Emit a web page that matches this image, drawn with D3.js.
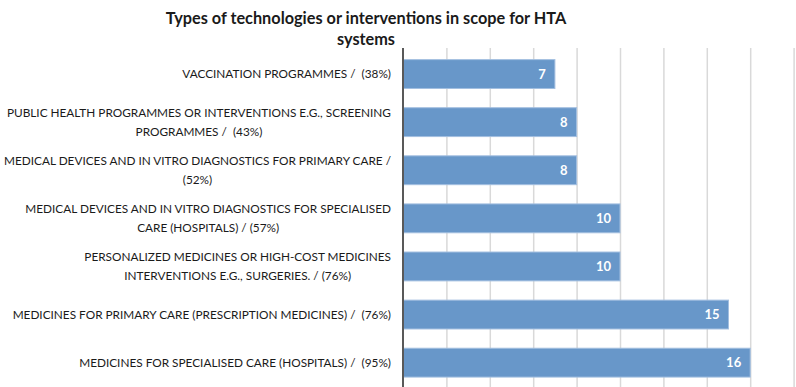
<!DOCTYPE html>
<html>
<head>
<meta charset="utf-8">
<script src="https://cdn.jsdelivr.net/npm/d3@7"></script>
<style>
  body { margin: 0; background: #fff; }
  svg { display: block; font-family: Lato, "Open Sans", sans-serif; }
  text { white-space: pre; }
</style>
</head>
<body>
<div id="chart"></div>
<script>
// chart data, top to bottom
const categories = [
    ["VACCINATION PROGRAMMES /  (38%)"],
    ["PUBLIC HEALTH PROGRAMMES OR INTERVENTIONS E.G., SCREENING", "PROGRAMMES /  (43%)"],
    ["MEDICAL DEVICES AND IN VITRO DIAGNOSTICS FOR PRIMARY CARE /", "(52%)"],
    ["MEDICAL DEVICES AND IN VITRO DIAGNOSTICS FOR SPECIALISED", "CARE (HOSPITALS) / (57%)"],
    ["PERSONALIZED MEDICINES OR HIGH-COST MEDICINES", "INTERVENTIONS E.G., SURGERIES. / (76%)"],
    ["MEDICINES FOR PRIMARY CARE (PRESCRIPTION MEDICINES) /  (76%)"],
    ["MEDICINES FOR SPECIALISED CARE (HOSPITALS) /  (95%)"]
];
const counts = [7, 8, 8, 10, 10, 15, 16];
const xTicks = [0, 2, 4, 6, 8, 10, 12, 14, 16, 18];
const titleLines = ["Types of technologies or interventions in scope for HTA", "systems"];

const width = 796,
    height = 387,
    margin = ({ top: 50, right: 2, bottom: 0, left: 403 });

const svg = d3.select("#chart").append("svg")
    .attr("width", width)
    .attr("height", height);

const x = d3.scaleLinear()
    .domain([0, 18])
    .range([margin.left, margin.left + 18 * 21.7]);

const y = d3.scaleBand()
    .domain(d3.range(categories.length))
    .range([margin.top, margin.top + 48.1 * categories.length])
    .paddingInner(0.4)
    .paddingOuter(0.2);

// gridlines
svg.append("g")
    .attr("class", "grid")
    .selectAll("line")
    .data(xTicks.slice(1))
    .join("line")
    .attr("x1", d => x(d) + 0.5)
    .attr("x2", d => x(d) + 0.5)
    .attr("y1", margin.top - 2)
    .attr("y2", height)
    .attr("stroke", "#d9d9d9")
    .attr("stroke-width", 1.5);

// bars
svg.append("g")
    .selectAll("rect")
    .data(counts)
    .join("rect")
    .attr("x", x(0))
    .attr("y", (d, i) => y(i))
    .attr("width", d => x(d) - x(0))
    .attr("height", y.bandwidth())
    .attr("fill", "#6897c9")
    .attr("stroke", "#a3bfe0")
    .attr("stroke-width", 1);

// value labels
svg.append("g")
    .selectAll("text")
    .data(counts)
    .join("text")
    .attr("x", d => x(d) - 9)
    .attr("y", (d, i) => y(i) + y.bandwidth() / 2)
    .attr("dy", "0.35em")
    .attr("text-anchor", "end")
    .attr("fill", "#fff")
    .style("font-weight", "bold")
    .style("font-size", "13px")
    .text(d => d);

// y axis line
svg.append("line")
    .attr("x1", x(0))
    .attr("x2", x(0))
    .attr("y1", margin.top - 2)
    .attr("y2", height)
    .attr("stroke", "#595959")
    .attr("stroke-width", 2);

// category labels
const lineH = 18.5;
const labels = svg.append("g")
    .attr("class", "labels")
    .selectAll("text")
    .data(categories)
    .join("text")
    .attr("text-anchor", "middle")
    .attr("fill", "#1a1a1a")
    .style("font-size", "11.8px")
    .each(function(lines, i) {
        const t = d3.select(this);
        const cy = y(i) + y.bandwidth() / 2 - (lines.length - 1) * lineH / 2;
        lines.forEach((s, k) => {
            t.append("tspan")
                .attr("x", 0)
                .attr("y", cy + k * lineH)
                .attr("dy", "0.35em")
                .text(s);
        });
    });

// right-align the block, center lines within it (like Excel wrapped labels)
labels.each(function() {
    const spans = d3.select(this).selectAll("tspan").nodes();
    const w = d3.max(spans, n => n.getComputedTextLength());
    spans.forEach(n => d3.select(n).attr("x", 391 - w / 2));
});

// title
svg.append("text")
    .attr("text-anchor", "middle")
    .attr("fill", "#1a1a1a")
    .style("font-weight", "bold")
    .style("font-size", "16.3px")
    .selectAll("tspan")
    .data(titleLines)
    .join("tspan")
    .attr("x", 366)
    .attr("y", (d, i) => 24 + i * 21)
    .text(d => d);
</script>
</body>
</html>
